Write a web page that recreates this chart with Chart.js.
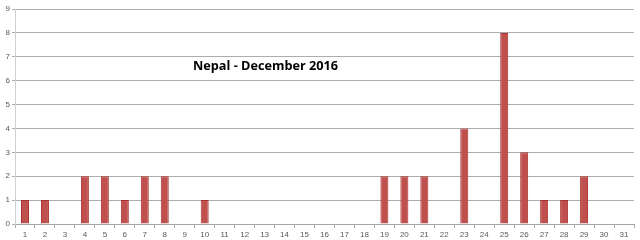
<!DOCTYPE html>
<html>
<head>
<meta charset="utf-8">
<script src="https://cdn.jsdelivr.net/npm/chart.js@4.4.0/dist/chart.umd.min.js"></script>
<style>
  html, body { margin: 0; padding: 0; background: #fff; }
  #wrap { width: 640px; height: 240px; }
</style>
</head>
<body>
<div id="wrap"><canvas id="c" width="640" height="240"></canvas></div>
<script>
const days = Array.from({ length: 31 }, (_, i) => String(i + 1));
const counts = [1, 1, 0, 2, 2, 1, 2, 2, 0, 1, 0, 0, 0, 0, 0, 0, 0, 0, 2, 2, 2, 0, 4, 0, 8, 3, 1, 1, 2, 0, 0];
const chartTitle = 'Nepal - December 2016';

// title sits inside the plot area, like the original spreadsheet chart
const insideTitle = {
  id: 'insideTitle',
  afterDraw(chart) {
    const ctx = chart.ctx;
    ctx.save();
    ctx.font = 'bold 12.7px "Open Sans", sans-serif';
    ctx.fillStyle = '#000';
    ctx.textBaseline = 'alphabetic';
    ctx.fillText(chartTitle, 193, 70);
    ctx.restore();
  }
};

new Chart(document.getElementById('c'), {
  type: 'bar',
  data: {
    labels: days,
    datasets: [{
      data: counts,
      backgroundColor: '#C0504D',
      borderColor: '#A8302C',
      borderWidth: 1,
      borderSkipped: 'bottom',
      barPercentage: 0.4,
      categoryPercentage: 1
    }]
  },
  options: {
    responsive: false,
    animation: false,
    layout: { padding: { top: 9, right: 6, left: 0, bottom: 0 } },
    plugins: { legend: { display: false }, tooltip: { enabled: false } },
    scales: {
      x: {
        afterFit: (s) => { s.height = 16; },
        grid: { offset: true, drawOnChartArea: false, tickLength: 4, color: '#A6A6A6' },
        border: { color: '#A6A6A6' },
        ticks: { color: '#595959', font: { size: 8, family: 'Arial, sans-serif' }, padding: 2, maxRotation: 0, autoSkip: false }
      },
      y: {
        min: 0, max: 9,
        afterFit: (s) => { s.width = 15; },
        grid: { color: '#ADADAD', tickLength: 3 },
        border: { color: '#D0D0D0' },
        ticks: { stepSize: 1, color: '#595959', font: { size: 8, family: 'Arial, sans-serif' }, padding: 2 }
      }
    }
  },
  plugins: [insideTitle]
});
</script>
</body>
</html>
